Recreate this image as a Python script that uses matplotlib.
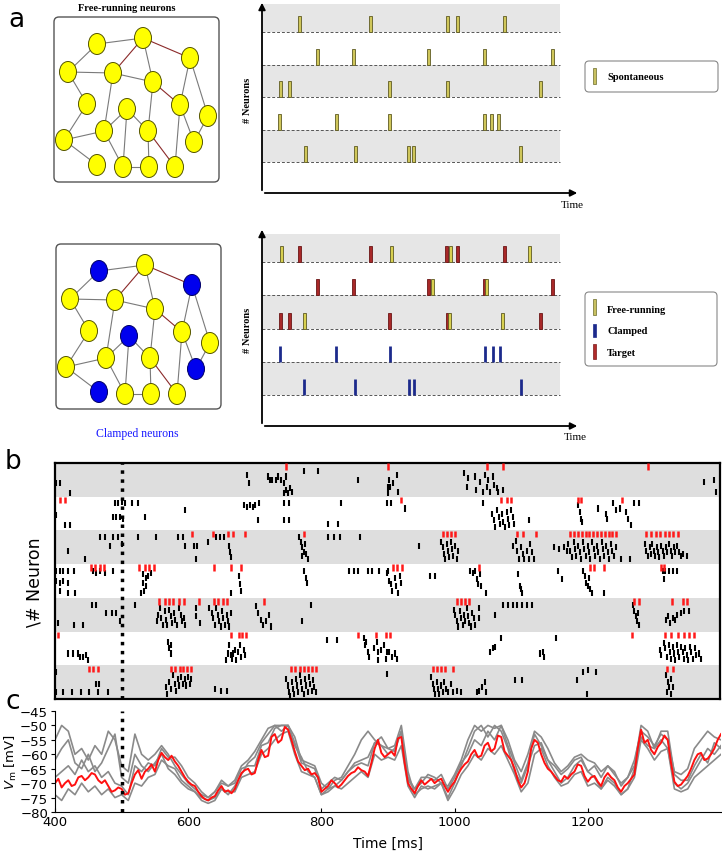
import matplotlib
matplotlib.use('Agg')
import matplotlib.pyplot as plt
import numpy as np
from matplotlib.patches import Ellipse, FancyBboxPatch, Rectangle

W, H = 722, 853
fig = plt.figure(figsize=(W / 100, H / 100), dpi=100)

# ---------------------------------------------------------------- data
# panel a: network diagram nodes (diagram coordinates) and edges
node_xy = [(97, 45), (143, 39), (190, 59), (68, 73), (113, 74), (153, 83),
           (87, 105), (180, 106), (127, 110), (208, 117), (64, 141), (104, 132),
           (148, 132), (194, 143), (97, 166), (123, 168), (149, 168), (175, 168)]
edges_grey = [(0, 1), (0, 3), (3, 4), (3, 6), (1, 5), (4, 5), (2, 7), (2, 9),
              (6, 10), (4, 11), (10, 11), (10, 14), (11, 8), (11, 15), (8, 15),
              (8, 12), (5, 12), (12, 16), (7, 13), (7, 17), (9, 13), (15, 16)]
edges_red = [(1, 4), (1, 2), (5, 7), (12, 17)]
clamped_nodes = [0, 2, 8, 13, 14]

# panel a rasters (time in arbitrary units)
spont_rows = [[37, 109, 186, 196, 243],
              [55, 91, 167, 223, 291],
              [18, 27, 128, 186, 279],
              [17, 74, 128, 223, 230, 237],
              [43, 93, 147, 152, 259]]
free_rows = [[19, 130, 189, 268],
             [171, 225],
             [42, 188, 241]]
target_rows = [[37, 109, 185, 196, 243],
               [55, 91, 167, 223, 291],
               [18, 27, 128, 186, 279]]
clamped_rows = [[18, 74, 128, 223, 231, 238],
                [42, 93, 147, 152, 259]]

# panel b: target spikes (red) per neuron, and free-running trial spikes (time, trial row)
red_spikes = [
    [748, 900, 1049, 1074, 1292],
    [407, 415, 920, 1071, 1079, 1085, 1186, 1191, 1253],
    [606, 637, 660, 667, 686, 775, 983, 990, 996, 1002, 1095, 1104, 1123, 1174, 1180,
     1186, 1192, 1198, 1203, 1209, 1215, 1221, 1227, 1233, 1238, 1244, 1289, 1296,
     1304, 1310, 1318, 1323, 1330, 1337],
    [454, 460, 467, 474, 527, 535, 542, 549, 639, 665, 679, 909, 915, 922, 1038, 1204,
     1210, 1226, 1311, 1316],
    [557, 565, 571, 578, 586, 594, 617, 639, 645, 652, 659, 714, 1004, 1010, 1017, 1022,
     1271, 1278, 1328, 1345, 1351],
    [405, 664, 676, 681, 687, 856, 882, 897, 904, 1267, 1318, 1327, 1337, 1346, 1353, 1361],
    [451, 457, 464, 574, 581, 588, 593, 598, 604, 755, 761, 768, 774, 780, 786, 793, 968,
     974, 980, 987, 998, 1321, 1329],
]
black_0 = [(402, 6), (407, 6), (422, 9), (689, 3.5), (691, 6), (721, 4), (724, 5), (727, 5),
           (732, 5), (736, 4), (740, 5), (745, 6), (748, 8), (750, 9), (753, 7.5), (756, 8.5),
           (744, 9), (748, 4), (775, 2.5), (795, 2.5), (856, 5), (900, 7), (901, 9),
           (903, 5), (904, 7), (914, 3.5), (916, 8.5), (909, 6), (1015, 3), (1019, 7),
           (1021, 4.5), (1031, 4), (1033, 8), (1039, 5.5), (1043, 8.5), (1046, 3.5),
           (1049, 7), (1051, 5), (1054, 8.5), (1058, 4), (1060, 6.5), (1066, 8.5),
           (1073, 8), (1064, 7.5), (1376, 5.5), (1391, 5), (1394, 8.5)]
black_1 = [(402, 5.5), (415, 8.5), (422, 8.5), (490, 2), (495, 2), (500, 1.5), (505, 2),
           (487, 6), (492, 6), (498, 6), (502, 6.5), (516, 2), (525, 2), (535, 6), (595, 4),
           (684, 2.5), (688, 3), (693, 2.5), (697, 3), (701, 2.5), (707, 2), (705, 7),
           (745, 2), (752, 2), (745, 7), (752, 7), (810, 8), (825, 8), (830, 2), (899, 2),
           (906, 2), (926, 3.5), (1044, 2), (1057, 5), (1060, 7), (1062, 9), (1065, 4),
           (1067, 6), (1069, 8), (1072, 5), (1074, 7.5), (1076, 9), (1079, 4.5),
           (1081, 6.5), (1083, 8.5), (1086, 4), (1088, 6), (1090, 8), (1113, 7),
           (1187, 2.5), (1189, 4.5), (1191, 6.5), (1193, 7.5), (1216, 3.5), (1229, 5),
           (1230, 6.5), (1239, 2), (1244, 4), (1249, 3.5), (1259, 4.5), (1261, 6.5),
           (1266, 8.5), (1271, 2), (1278, 2)]
black_2 = [(420, 6), (445, 8.5), (467, 2), (475, 2), (487, 2), (495, 2), (482, 4.5),
           (500, 4), (525, 2), (552, 2), (585, 2), (592, 2), (596, 4.5), (609, 4.5),
           (613, 4.5), (612, 8.5), (630, 3.5), (642, 2), (648, 2), (654, 2), (661, 4.5),
           (663, 6.5), (665, 8), (767, 2), (770, 3.5), (772, 5), (774, 6.5), (776, 4),
           (778, 7), (780, 8.5), (771, 7.5), (810, 2), (820, 2), (829, 2), (859, 2),
           (947, 4.5), (981, 3.5), (983, 5), (985, 7), (986, 8.5), (989, 4), (991, 6),
           (993, 8), (995, 3.5), (997, 5.5), (999, 7.5), (1001, 4.5), (1004, 8.5),
           (1006, 6), (1089, 4.5), (1093, 3), (1095, 6), (1097, 8.5), (1101, 5), (1104, 7),
           (1106, 8.5), (1110, 6), (1113, 8.5), (1115, 4), (1118, 6.5), (1121, 8.5),
           (1151, 5), (1158, 5.5), (1165, 5), (1170, 6), (1172, 4), (1175, 6), (1177, 8),
           (1180, 3.5), (1182, 5.5), (1184, 7.5), (1187, 4.5), (1189, 6.5), (1191, 8.5),
           (1194, 3.5), (1196, 5.5), (1198, 7.5), (1201, 4.5), (1203, 6.5), (1205, 8.5),
           (1208, 3.5), (1210, 5.5), (1212, 7.5), (1215, 4.5), (1217, 6.5), (1219, 8.5),
           (1222, 3.5), (1224, 5.5), (1226, 7.5), (1229, 4.5), (1231, 6.5), (1233, 8.5),
           (1236, 4), (1238, 6), (1240, 7.5), (1243, 5), (1251, 8.5), (1264, 8.5),
           (1287, 4), (1289, 6), (1291, 7.5), (1294, 5), (1296, 7), (1298, 4), (1300, 6),
           (1302, 7.5), (1305, 5), (1307, 6.5), (1309, 8), (1312, 4.5), (1314, 6),
           (1316, 7.5), (1319, 5), (1321, 6.5), (1324, 4), (1326, 6), (1328, 7.5),
           (1331, 5), (1333, 6.5), (1336, 4.5), (1338, 6.5), (1341, 7.5), (1345, 7),
           (1351, 7.5)]
black_3 = [(402, 2), (407, 2), (412, 2), (419, 2), (429, 2), (402, 5), (407, 5.5), (412, 5),
           (419, 5.5), (407, 8), (419, 8.5), (430, 8.5), (457, 2), (462, 2.5), (468, 2),
           (475, 2.5), (487, 2), (533, 3), (537, 4), (540, 3.5), (532, 5.5), (537, 6.5),
           (530, 8.5), (534, 8), (545, 2.5), (665, 8.5), (677, 3.5), (678, 6), (679, 8),
           (775, 2), (777, 4), (779, 5.5), (842, 2), (850, 2), (856, 2), (871, 2),
           (877, 2), (887, 2), (900, 2), (899, 2.5), (902, 5), (905, 6), (907, 8), (911, 4),
           (913, 6.5), (916, 8.5), (919, 3.5), (921, 5.5), (964, 3.5), (971, 3.5),
           (1024, 2), (1029, 2.5), (1032, 2), (1034, 4.5), (1036, 6), (1039, 3),
           (1041, 6.5), (1048, 8.5), (1096, 3), (1099, 6.5), (1101, 7.5), (1103, 8.5),
           (1156, 2), (1163, 4.5), (1194, 2), (1197, 3.5), (1199, 5.5), (1201, 6.5),
           (1203, 4), (1205, 7.5), (1207, 8.5), (1226, 8.5), (1314, 2), (1318, 2),
           (1323, 2), (1329, 2), (1335, 2), (1316, 4.5)]
black_4 = [(405, 7.5), (429, 8), (442, 8), (455, 2), (462, 2), (477, 4.5), (485, 4.5),
           (492, 4.5), (497, 7), (520, 2), (553, 7), (555, 5), (558, 3), (560, 6), (562, 8),
           (565, 4), (567, 6.5), (569, 8), (572, 3.5), (574, 5.5), (576, 7.5), (579, 4.5),
           (581, 6.5), (584, 8), (587, 3), (589, 5), (591, 7), (594, 6), (596, 8),
           (612, 3), (612, 5.5), (618, 7.5), (631, 3), (636, 4.5), (638, 6), (640, 8),
           (642, 3), (645, 5), (647, 7), (649, 8.5), (651, 4), (653, 6), (655, 8), (658, 5),
           (660, 7), (662, 8.5), (664, 4.5), (702, 2.5), (705, 4.5), (710, 6.5), (713, 8),
           (718, 7), (722, 5), (725, 8.5), (771, 7), (785, 2), (1000, 3.5), (1002, 5),
           (1004, 7), (1006, 8.5), (1009, 4), (1011, 6), (1013, 8), (1015, 5), (1017, 7),
           (1019, 3), (1021, 5.5), (1023, 7.5), (1025, 8.5), (1027, 4.5), (1030, 6),
           (1032, 8), (1037, 3), (1038, 6), (1062, 5), (1074, 2), (1081, 2), (1089, 2),
           (1095, 2), (1103, 2), (1110, 2), (1118, 2), (1269, 2), (1271, 4), (1273, 5.5),
           (1275, 7), (1277, 4.5), (1278, 8), (1319, 6.5), (1322, 5.5), (1325, 7.5),
           (1329, 6), (1333, 6.5), (1336, 5), (1342, 4.5), (1346, 4), (1353, 4)]
black_5 = [(420, 6.5), (427, 6.5), (434, 6.5), (437, 7.5), (442, 7.5), (446, 7), (450, 8.5),
           (570, 3), (571, 5), (574, 4), (575, 6.5), (657, 8.5), (660, 6.5), (662, 4),
           (664, 7), (666, 8), (668, 6.5), (670, 5.5), (672, 8.5), (675, 6), (678, 4),
           (680, 7.5), (684, 5.5), (686, 7), (809, 2.5), (824, 2.5), (864, 2), (866, 4),
           (868, 3), (870, 6), (872, 7.5), (880, 5), (884, 3), (885, 6), (886, 8.5),
           (890, 5.5), (895, 4), (898, 8), (899, 6), (903, 6), (907, 7.5), (911, 6.5),
           (915, 8), (1054, 6), (1058, 5), (1062, 4.5), (1070, 2), (1130, 6.5), (1134, 6),
           (1136, 7.5), (1153, 2), (1310, 5.5), (1312, 7), (1316, 3.5), (1318, 5),
           (1320, 7.5), (1323, 4), (1325, 6), (1327, 8), (1329, 4.5), (1331, 6.5),
           (1333, 8.5), (1335, 4), (1337, 6), (1339, 7.5), (1342, 4.5), (1344, 6),
           (1346, 8), (1348, 5), (1350, 7), (1352, 8.5), (1355, 4.5), (1357, 6), (1359, 8),
           (1362, 5), (1364, 7), (1368, 6.5), (1372, 8)]
black_6 = [(402, 2), (402, 8), (412, 8), (425, 8), (439, 8), (451, 8), (465, 8), (479, 8),
           (462, 5.5), (466, 5.5), (567, 6.5), (569, 8.5), (572, 5), (575, 7), (577, 3),
           (580, 5.5), (582, 7.5), (585, 4), (587, 6), (590, 3.5), (592, 5.5), (595, 4),
           (597, 6), (600, 3.5), (603, 5.5), (605, 4), (640, 7), (650, 7.5), (659, 7.5),
           (748, 4), (750, 6), (752, 8), (754, 9), (756, 5), (758, 7), (760, 8.5), (762, 4),
           (764, 6), (766, 8), (768, 3), (770, 5), (772, 7), (774, 8.5), (776, 4), (778, 6),
           (780, 8), (782, 3.5), (784, 5.5), (786, 7.5), (788, 4.5), (790, 6.5), (792, 8),
           (899, 2.5), (966, 3.5), (968, 5.5), (970, 7), (972, 8.5), (974, 5), (976, 7),
           (978, 8.5), (980, 6), (983, 8), (985, 5), (988, 7), (991, 8), (995, 5.5),
           (999, 8), (1004, 7.5), (1011, 8), (1034, 8), (1038, 7.5), (1042, 6.5),
           (1046, 5), (1048, 8), (1091, 4.5), (1103, 4.5), (1185, 4.5), (1194, 2),
           (1201, 1.5), (1214, 2), (1200, 8.5), (1319, 3), (1322, 5), (1324, 6.5),
           (1321, 8), (1326, 8.5), (1327, 4), (1329, 6.5)]
black_spikes = [black_0, black_1, black_2, black_3, black_4, black_5, black_6]
clamp_onset = 500

# panel c: membrane potentials (mV)
target_t = list(range(400, 1401, 5))
vm_target = [-70, -68.5, -71.5, -70, -69, -71, -70.5, -68, -67.5, -69, -68, -66.5, -67, -69, -70, -69, -71, -73, -72.5, -71.5,
             -72, -74, -73.5, -70, -67, -65.5, -68.5, -66, -65, -63.5, -66, -62, -59.5, -61, -62, -60.5, -62.5, -64, -66, -68,
             -69.5, -70.5, -71, -73, -74.5, -75.5, -76, -75, -74.5, -72.5, -71, -73, -72.5, -73.5, -72, -69, -66.5, -65.5, -65, -67,
             -66.5, -62, -58.5, -61, -60.5, -54, -53, -56, -55, -50.5, -51.5, -55, -59, -62.5, -64, -65.5, -65, -67, -66.5, -68,
             -73, -72, -71, -69, -70, -71.5, -70.5, -69, -67.5, -66.5, -66, -64.5, -65.5, -66, -67.5, -63, -58, -55, -59.5, -61,
             -60, -59, -60.5, -54.5, -54, -63, -70, -72, -73.5, -71, -69, -70.5, -69.5, -68.5, -70, -69, -68.5, -71, -73, -71,
             -69.5, -67, -65, -63.5, -62.5, -60, -58.5, -61, -60.5, -57, -56, -59, -58, -53.5, -54, -59, -60.5, -62, -65, -69,
             -71.5, -70, -66, -58, -55, -56, -60, -63, -65, -66, -67.5, -69, -69.5, -67.5, -68.5, -67, -66, -63.5, -64, -67.5,
             -69.5, -68, -67.5, -69.5, -71, -68, -66.5, -68, -69, -71.5, -73, -71, -70, -68.5, -67, -58, -51.5, -56, -55, -58.5,
             -60, -57.5, -56, -53.5, -55, -63, -69.5, -71, -70.5, -69, -67.5, -65, -62, -60, -59.5, -62, -61.5, -60, -58, -55,
             -53]
trial_t = list(range(400, 1401, 10))
vm_trial_1 = [-55, -50, -52, -60, -58, -62, -57, -60, -52, -55,
              -64, -66, -53, -60, -62, -60, -57, -60, -64, -67,
              -70, -72, -74, -75, -73, -69, -71, -69, -64, -62,
              -59, -55, -51, -50, -50, -50, -54, -62, -63, -64,
              -70, -72, -69, -68, -64, -60, -55, -52, -55, -57,
              -60, -58, -52, -68, -72, -70, -67, -68, -70, -71,
              -67, -62, -55, -50, -52, -50, -51, -50, -55, -62,
              -66, -60, -52, -54, -58, -63, -66, -64, -61, -60,
              -62, -63, -66, -64, -67, -70, -68, -62, -52, -54,
              -57, -53, -55, -66, -67, -65, -58, -55, -52, -54,
              -55]
vm_trial_2 = [-62, -58, -55, -63, -65, -60, -66, -63, -58, -53,
              -68, -70, -60, -64, -66, -63, -60, -65, -67, -70,
              -72, -73, -76, -77, -76, -72, -74, -71, -67, -63,
              -61, -56, -53, -50, -52, -50, -57, -61, -66, -68,
              -74, -73, -71, -69, -66, -63, -62, -61, -56, -54,
              -58, -57, -50, -66, -74, -72, -71, -72, -70, -75,
              -70, -64, -58, -52, -50, -54, -50, -52, -58, -66,
              -70, -64, -57, -56, -62, -66, -70, -68, -64, -62,
              -66, -68, -72, -68, -70, -74, -72, -65, -54, -57,
              -58, -55, -58, -70, -72, -70, -66, -62, -58, -60,
              -57]
vm_trial_3 = [-74, -76, -72, -74, -70, -73, -71, -74, -72, -75,
              -74, -76, -70, -71, -68, -67, -62, -64, -65, -69,
              -71, -73, -75, -76, -75, -72, -73, -73, -68, -67,
              -66, -60, -58, -55, -53, -52, -60, -66, -67, -68,
              -74, -72, -71, -72, -70, -68, -66, -68, -60, -62,
              -61, -62, -57, -71, -75, -71, -72, -71, -70, -76,
              -72, -67, -64, -60, -62, -58, -60, -57, -62, -67,
              -73, -70, -60, -58, -64, -68, -71, -70, -67, -66,
              -71, -70, -72, -69, -71, -74, -72, -68, -55, -58,
              -62, -59, -58, -72, -73, -72, -68, -66, -64, -62,
              -60]
vm_trial_4 = [-68, -66, -64, -67, -62, -66, -64, -68, -66, -70,
              -71, -74, -64, -66, -63, -64, -58, -61, -61, -64,
              -68, -70, -73, -75, -73, -70, -71, -70, -65, -64,
              -64, -57, -56, -51, -50, -50, -56, -63, -64, -65,
              -72, -70, -68, -69, -66, -64, -63, -64, -56, -57,
              -58, -59, -52, -69, -72, -68, -68, -69, -67, -72,
              -68, -63, -60, -55, -57, -52, -55, -50, -57, -63,
              -69, -63, -53, -57, -62, -64, -67, -65, -62, -61,
              -66, -64, -68, -64, -66, -71, -68, -64, -50, -52,
              -58, -52, -52, -67, -69, -69, -64, -60, -63, -56,
              -58]
vm_trials = [vm_trial_1, vm_trial_2, vm_trial_3, vm_trial_4]


def px_rect(x0, y0, x1, y1):
    """figure-fraction rect from pixel box (top-left origin)"""
    return [x0 / W, 1 - y1 / H, (x1 - x0) / W, (y1 - y0) / H]


# ---------------------------------------------------------------- overlay (pixel coords)
ov = fig.add_axes([0, 0, 1, 1])
ov.set_xlim(0, W)
ov.set_ylim(H, 0)
ov.axis('off')

serif = 'Liberation Serif'


def draw_network(dx, dy, clamped):
    ov.add_patch(FancyBboxPatch((54 + dx, 18 + dy), 165, 165,
                                boxstyle='round,pad=0,rounding_size=5',
                                fc='white', ec='#555555', lw=1.0, zorder=1))
    for a, b in edges_grey:
        ov.plot([node_xy[a][0] + dx, node_xy[b][0] + dx],
                [node_xy[a][1] + dy, node_xy[b][1] + dy], color='#7a7a7a', lw=0.8, zorder=2)
    for a, b in edges_red:
        ov.plot([node_xy[a][0] + dx, node_xy[b][0] + dx],
                [node_xy[a][1] + dy, node_xy[b][1] + dy], color='#8b2a2a', lw=0.8, zorder=2)
    for i, (x, y) in enumerate(node_xy):
        fc = '#0000ee' if (clamped and i in clamped_nodes) else '#ffff00'
        ec = '#000066' if (clamped and i in clamped_nodes) else '#555500'
        ov.add_patch(Ellipse((x + dx, y + dy), 17, 21, fc=fc, ec=ec, lw=0.7, zorder=3))


draw_network(0, 0, False)
draw_network(2, 227, True)
ov.text(127, 8, 'Free-running neurons', family=serif, fontsize=7.5, fontweight='bold',
        ha='center', va='center')
ov.text(137, 434, 'Clamped neurons', family=serif, fontsize=8.5, color='#1a1aff',
        ha='center', va='center')

# legends
ov.add_patch(FancyBboxPatch((585, 62), 133, 31, boxstyle='round,pad=0,rounding_size=4',
                            fc='white', ec='#888888', lw=0.8))
ov.add_patch(Rectangle((593, 69), 2.5, 16, fc='#c8c060', ec='#6b6b2a', lw=0.5))
ov.text(607, 77, 'Spontaneous', family=serif, fontsize=7.5, fontweight='bold', va='center')

ov.add_patch(FancyBboxPatch((585, 293), 132, 74, boxstyle='round,pad=0,rounding_size=4',
                            fc='white', ec='#888888', lw=0.8))
ov.add_patch(Rectangle((593, 300), 2.5, 16, fc='#c8c060', ec='#6b6b2a', lw=0.5))
ov.add_patch(Rectangle((593, 325), 2.5, 13, fc='#1c2a8c', ec='#1c2a8c', lw=0.5))
ov.add_patch(Rectangle((593, 345), 2.5, 15, fc='#b02a2a', ec='#7a1a1a', lw=0.5))
ov.text(607, 310, 'Free-running', family=serif, fontsize=7.5, fontweight='bold', va='center')
ov.text(607, 331, 'Clamped', family=serif, fontsize=7.5, fontweight='bold', va='center')
ov.text(607, 353, 'Target', family=serif, fontsize=7.5, fontweight='bold', va='center')

ov.text(247, 100, '# Neurons', family=serif, fontsize=7.5, fontweight='bold', rotation=90,
        ha='center', va='center')
ov.text(247, 330, '# Neurons', family=serif, fontsize=7.5, fontweight='bold', rotation=90,
        ha='center', va='center')
ov.text(572, 205, 'Time', family=serif, fontsize=8, ha='center', va='center')
ov.text(575, 437, 'Time', family=serif, fontsize=8, ha='center', va='center')

ov.text(16, 20, 'a', fontsize=19, ha='center', va='center')
ov.text(13, 462, 'b', fontsize=19, ha='center', va='center')
ov.text(13, 702, 'c', fontsize=19, ha='center', va='center')


# ---------------------------------------------------------------- panel a rasters
def raster_axes(y0, y1, spacing, first_base, top_band):
    ax = fig.add_axes(px_rect(262, y0, 578, y1))
    ax.set_xlim(0, 316)
    ax.set_ylim(0, y1 - y0)
    ax.axis('off')
    bases = [first_base + (4 - i) * spacing for i in range(5)]
    for i, b in enumerate(bases):
        if i % 2 == 0:
            top = top_band if i == 0 else b + spacing
            ax.fill_between([0, 298], b, top, color='#e6e6e6', lw=0, zorder=0)
    ax.hlines(bases, 0, 298, colors='#555555', linestyles=(0, (3, 2)), lw=0.7, zorder=1)
    ax.annotate('', xy=(318, 0), xytext=(0, 0), annotation_clip=False,
                arrowprops=dict(arrowstyle='-|>', color='black', lw=1.3, mutation_scale=10))
    ax.annotate('', xy=(0, y1 - y0 + 2), xytext=(0, 0), annotation_clip=False,
                arrowprops=dict(arrowstyle='-|>', color='black', lw=1.3, mutation_scale=10))
    return ax, bases


ax_a1, bases1 = raster_axes(3, 194, 32.5, 31, 189)
for i, row in enumerate(spont_rows):
    ax_a1.bar(row, 16, bottom=bases1[i], width=3, color='#cfc65a', edgecolor='#5e5a22',
              lw=0.6, zorder=3)

ax_a2, bases2 = raster_axes(230, 427, 33.25, 31, 192)
for i, row in enumerate(target_rows):
    ax_a2.bar(row, 16, bottom=bases2[i], width=3, color='#a82828', edgecolor='#6a1515',
              lw=0.6, zorder=3)
for i, row in enumerate(free_rows):
    ax_a2.bar(row, 16, bottom=bases2[i], width=3, color='#d8d050', edgecolor='#5e5a22',
              lw=0.6, zorder=4)
for j, row in enumerate(clamped_rows):
    ax_a2.vlines(row, bases2[3 + j], bases2[3 + j] + 16, color='#1c2a8c', lw=2, zorder=3)

# ---------------------------------------------------------------- panel b
axb = fig.add_axes(px_rect(55, 464, 720, 700))
axb.set_xlim(400, 1400)
axb.set_ylim(70, 0)
for n in range(7):
    if n % 2 == 0:
        axb.axhspan(10 * n, 10 * n + 10, color='#dedede', lw=0, zorder=0)
for n in range(7):
    bt = np.array([s[0] for s in black_spikes[n]])
    by = np.array([s[1] for s in black_spikes[n]]) + 10 * n
    axb.vlines(bt, by - 0.9, by + 0.9, color='black', lw=1.5, zorder=2)
    rt = np.array(red_spikes[n])
    axb.vlines(rt, 10 * n + 0.1, 10 * n + 2.0, color='#ff1a1a', lw=1.8, zorder=3)
axb.axvline(clamp_onset, color='black', ls=(0, (1, 1.6)), lw=2.5, zorder=4)
axb.set_xticks([])
axb.set_yticks([])
for sp in axb.spines.values():
    sp.set_linewidth(1.6)
axb.set_ylabel('\\# Neuron', fontsize=12.5, labelpad=8)

# ---------------------------------------------------------------- panel c
axc = fig.add_axes(px_rect(55, 712, 721, 813))
axc.set_xlim(400, 1400)
axc.set_ylim(-80, -45)
for tr in vm_trials:
    axc.plot(trial_t, np.clip(tr, -80, -50), color='#8a8a8a', lw=1.2, zorder=1)
axc.plot(target_t, vm_target, color='#ff1010', lw=1.4, zorder=2)
axc.axvline(clamp_onset, color='black', ls=(0, (1, 1.6)), lw=2.5, zorder=3)
axc.spines['top'].set_visible(False)
axc.spines['right'].set_visible(False)
axc.set_yticks([-80, -75, -70, -65, -60, -55, -50, -45])
axc.set_yticklabels(['−80', '−75', '−70', '−65', '−60', '−55', '−50', '−45'])
axc.set_xticks([400, 600, 800, 1000, 1200])
axc.tick_params(axis='both', labelsize=9.5, length=3, pad=2)
axc.tick_params(axis='x', direction='in')
axc.set_xlabel('Time [ms]', fontsize=10, labelpad=6)
axc.set_ylabel('$V_{\\rm m}$ [mV]', fontsize=9.5, labelpad=1)

fig.savefig('out.png', dpi=100)
